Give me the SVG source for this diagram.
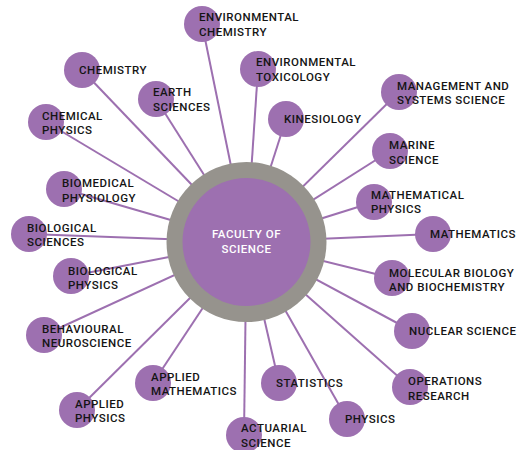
<svg xmlns="http://www.w3.org/2000/svg" width="524" height="450" viewBox="0 0 524 450">
<style>
.n{fill:#9d70b0}
.t{font-family:Roboto,"Liberation Sans",sans-serif;font-weight:500;font-size:11.5px;letter-spacing:0.5px;fill:#141414}
.c{stroke:#9d70b0;stroke-width:2;fill:none}
.hub-t{font-family:Roboto,"Liberation Sans",sans-serif;font-weight:500;font-size:11.5px;letter-spacing:0.5px;fill:#ffffff;text-anchor:middle}
</style>
<rect width="524" height="450" fill="#ffffff"/>
<g id="connectors" class="c">
<line x1="246.5" y1="242" x2="202" y2="24"/>
<line x1="246.5" y1="242" x2="82" y2="70"/>
<line x1="246.5" y1="242" x2="156" y2="99"/>
<line x1="246.5" y1="242" x2="46" y2="122"/>
<line x1="246.5" y1="242" x2="258" y2="69"/>
<line x1="246.5" y1="242" x2="286" y2="119"/>
<line x1="246.5" y1="242" x2="399" y2="92"/>
<line x1="246.5" y1="242" x2="390" y2="151"/>
<line x1="246.5" y1="242" x2="374" y2="202"/>
<line x1="246.5" y1="242" x2="433" y2="234"/>
<line x1="246.5" y1="242" x2="392" y2="278"/>
<line x1="246.5" y1="242" x2="412" y2="331"/>
<line x1="246.5" y1="242" x2="410" y2="387"/>
<line x1="246.5" y1="242" x2="347" y2="419"/>
<line x1="246.5" y1="242" x2="279" y2="383"/>
<line x1="246.5" y1="242" x2="244" y2="435"/>
<line x1="246.5" y1="242" x2="153" y2="383"/>
<line x1="246.5" y1="242" x2="77" y2="410"/>
<line x1="246.5" y1="242" x2="44" y2="335"/>
<line x1="246.5" y1="242" x2="71" y2="276"/>
<line x1="246.5" y1="242" x2="29" y2="234"/>
<line x1="246.5" y1="242" x2="64" y2="189"/>
</g>
<g id="hub">
<circle cx="246.5" cy="242" r="80" fill="#96938d"/>
<circle cx="246.5" cy="242" r="64" class="n"/>
<text class="hub-t" x="246.5" y="238">FACULTY OF</text>
<text class="hub-t" x="246.5" y="253">SCIENCE</text>
</g>
<g id="env-chemistry"><circle class="n" cx="202" cy="24" r="18"/><text class="t" x="199" y="21">ENVIRONMENTAL</text><text class="t" x="199" y="35.5">CHEMISTRY</text></g>
<g id="chemistry"><circle class="n" cx="82" cy="70" r="18"/><text class="t" x="79" y="74">CHEMISTRY</text></g>
<g id="earth-sciences"><circle class="n" cx="156" cy="99" r="18"/><text class="t" x="153" y="96">EARTH</text><text class="t" x="153" y="111">SCIENCES</text></g>
<g id="chemical-physics"><circle class="n" cx="46" cy="122" r="18"/><text class="t" x="42" y="120">CHEMICAL</text><text class="t" x="42" y="134">PHYSICS</text></g>
<g id="env-toxicology"><circle class="n" cx="258" cy="69" r="18"/><text class="t" x="256" y="66">ENVIRONMENTAL</text><text class="t" x="256" y="81">TOXICOLOGY</text></g>
<g id="kinesiology"><circle class="n" cx="286" cy="119" r="18"/><text class="t" x="284" y="123">KINESIOLOGY</text></g>
<g id="management"><circle class="n" cx="399" cy="92" r="18"/><text class="t" x="397" y="90">MANAGEMENT AND</text><text class="t" x="397" y="104">SYSTEMS SCIENCE</text></g>
<g id="marine-science"><circle class="n" cx="390" cy="151" r="18"/><text class="t" x="389" y="149">MARINE</text><text class="t" x="389" y="164">SCIENCE</text></g>
<g id="mathematical-physics"><circle class="n" cx="374" cy="202" r="18"/><text class="t" x="371" y="199">MATHEMATICAL</text><text class="t" x="371" y="213">PHYSICS</text></g>
<g id="mathematics"><circle class="n" cx="433" cy="234" r="18"/><text class="t" x="430" y="238">MATHEMATICS</text></g>
<g id="molecular-biology"><circle class="n" cx="392" cy="278" r="18"/><text class="t" x="389" y="277">MOLECULAR BIOLOGY</text><text class="t" x="389" y="291">AND BIOCHEMISTRY</text></g>
<g id="nuclear-science"><circle class="n" cx="412" cy="331" r="18"/><text class="t" x="409" y="335">NUCLEAR SCIENCE</text></g>
<g id="operations-research"><circle class="n" cx="410" cy="387" r="18"/><text class="t" x="408" y="385">OPERATIONS</text><text class="t" x="408" y="400">RESEARCH</text></g>
<g id="physics"><circle class="n" cx="347" cy="419" r="18"/><text class="t" x="345" y="423">PHYSICS</text></g>
<g id="statistics"><circle class="n" cx="279" cy="383" r="18"/><text class="t" x="276" y="387">STATISTICS</text></g>
<g id="actuarial-science"><circle class="n" cx="244" cy="435" r="18"/><text class="t" x="241" y="432">ACTUARIAL</text><text class="t" x="241" y="447">SCIENCE</text></g>
<g id="applied-mathematics"><circle class="n" cx="153" cy="383" r="18"/><text class="t" x="151" y="381">APPLIED</text><text class="t" x="151" y="395">MATHEMATICS</text></g>
<g id="applied-physics"><circle class="n" cx="77" cy="410" r="18"/><text class="t" x="75" y="408">APPLIED</text><text class="t" x="75" y="422">PHYSICS</text></g>
<g id="behavioural-neuroscience"><circle class="n" cx="44" cy="335" r="18"/><text class="t" x="42" y="333">BEHAVIOURAL</text><text class="t" x="42" y="347">NEUROSCIENCE</text></g>
<g id="biological-physics"><circle class="n" cx="71" cy="276" r="18"/><text class="t" x="68" y="275">BIOLOGICAL</text><text class="t" x="68" y="289">PHYSICS</text></g>
<g id="biological-sciences"><circle class="n" cx="29" cy="234" r="18"/><text class="t" x="27" y="232">BIOLOGICAL</text><text class="t" x="27" y="246">SCIENCES</text></g>
<g id="biomedical-physiology"><circle class="n" cx="64" cy="189" r="18"/><text class="t" x="62" y="187">BIOMEDICAL</text><text class="t" x="62" y="202">PHYSIOLOGY</text></g>
</svg>
